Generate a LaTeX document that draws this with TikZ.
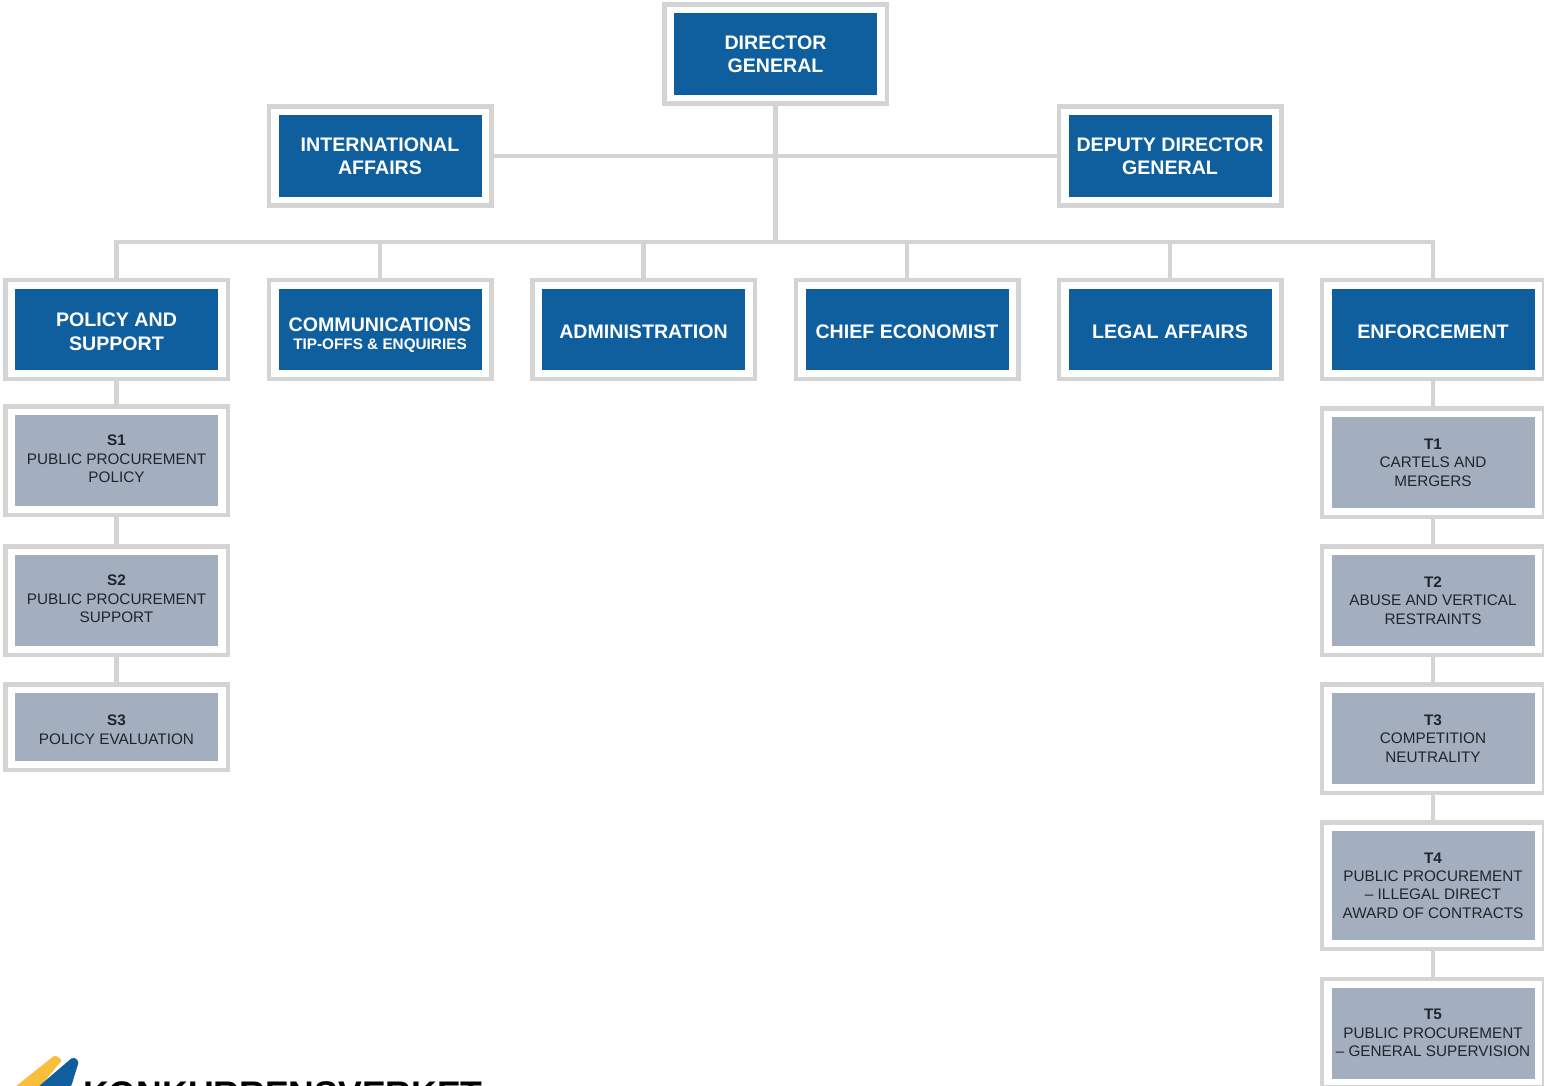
\documentclass[tikz,border=0pt]{standalone}
\usepackage{fontspec}
\setmainfont{Liberation Sans}
\definecolor{framegrey}{HTML}{D4D4D4}
\definecolor{headblue}{HTML}{0F5F9F}
\definecolor{unitgrey}{HTML}{A3AEBE}
\definecolor{unittext}{HTML}{20252B}
\definecolor{logoyellow}{HTML}{F9BE3C}
\newcommand{\subfont}{\fontsize{15.3}{18.4}\selectfont}
\newcommand{\topgap}[1]{\rule{0pt}{#1}}
\tikzset{
  frame/.style={draw=framegrey,fill=white,line width=4.5pt,minimum width=222.5pt,inner sep=0pt,align=center,
    path picture={\fill[#1]([xshift=9.75pt,yshift=-8.75pt]path picture bounding box.north west)rectangle([xshift=-9.75pt,yshift=8.75pt]path picture bounding box.south east);}},
  head/.style={frame=headblue,minimum height=99pt,text=white,font=\fontsize{19.6}{23.5}\selectfont\bfseries},
  unit/.style={frame=unitgrey,minimum height=#1,text=unittext,font=\subfont},
  link/.style={draw=framegrey,line width=4.5pt},
  lift/.style={execute at end node={\rule[-#1]{0pt}{0pt}}}
}
\begin{document}
\begin{tikzpicture}[x=1pt,y=-1pt]
    \useasboundingbox(0,0)rectangle(1544,1085);
    \node[head](dg)at(775.5,54){DIRECTOR\\GENERAL};
    \node[head](intl)at(380,156){INTERNATIONAL\\AFFAIRS};
    \node[head](dep)at(1170,156){DEPUTY DIRECTOR\\GENERAL};
    \node[head](pol)at(116.5,329.5){\topgap{18pt}POLICY AND\\SUPPORT};
    \node[head](com)at(380,329.5){\topgap{25pt}COMMUNICATIONS\\[-5.5pt]{\subfont\bfseries TIP-OFFS \& ENQUIRIES}};
    \node[head](adm)at(643.5,329.5){\topgap{19pt}ADMINISTRATION};
    \node[head](eco)at(907,329.5){\topgap{19pt}CHIEF ECONOMIST};
    \node[head](leg)at(1170,329.5){\topgap{19pt}LEGAL AFFAIRS};
    \node[head](enf)at(1433,329.5){\topgap{19pt}ENFORCEMENT};
    \node[unit=108.5pt,lift=3pt](s1)at(116.5,460.5){\textbf{S1}\\PUBLIC PROCUREMENT\\POLICY};
    \node[unit=108.5pt,lift=3pt](s2)at(116.5,600.5){\textbf{S2}\\PUBLIC PROCUREMENT\\SUPPORT};
    \node[unit=85.5pt](s3)at(116.5,727){\topgap{16pt}\textbf{S3}\\POLICY EVALUATION};
    \node[unit=108.5pt](t1)at(1433,462.5){\textbf{T1}\\CARTELS AND\\MERGERS};
    \node[unit=108.5pt](t2)at(1433,600.5){\textbf{T2}\\ABUSE AND VERTICAL\\RESTRAINTS};
    \node[unit=108.5pt](t3)at(1433,738.5){\textbf{T3}\\COMPETITION\\NEUTRALITY};
    \node[unit=126.5pt](t4)at(1433,885.5){\textbf{T4}\\PUBLIC PROCUREMENT\\-- ILLEGAL DIRECT\\AWARD OF CONTRACTS};
    \node[unit=108.5pt](t5)at(1433,1033){\textbf{T5}\\PUBLIC PROCUREMENT\\-- GENERAL SUPERVISION};
    \coordinate(bus)at(775.5,242);
    \draw[link](dg.south)--(bus);
    \draw[link](intl.east)--(dep.west);
    \foreach \n in {pol,com,adm,eco,leg,enf}{
      \draw[link](bus)-|(\n.north);
    }
    \draw[link](pol.south)--(s1.north);
    \draw[link](s1.south)--(s2.north);
    \draw[link](s2.south)--(s3.north);
    \draw[link](enf.south)--(t1.north);
    \draw[link](t1.south)--(t2.north);
    \draw[link](t2.south)--(t3.north);
    \draw[link](t3.south)--(t4.north);
    \draw[link](t4.south)--(t5.north);
    \fill[logoyellow,rounded corners=2pt](15,1087)--(55,1055)--(62,1060)--(40,1087)--cycle;
    \fill[headblue,rounded corners=2pt](38,1087)--(73,1057)--(79,1061)--(71,1087)--cycle;
    \node[anchor=base west,inner sep=0pt,font=\fontsize{35.6}{36}\selectfont\bfseries,text=black](logo)at(83,1106){KONKURRENSVERKET};
\end{tikzpicture}
\end{document}
